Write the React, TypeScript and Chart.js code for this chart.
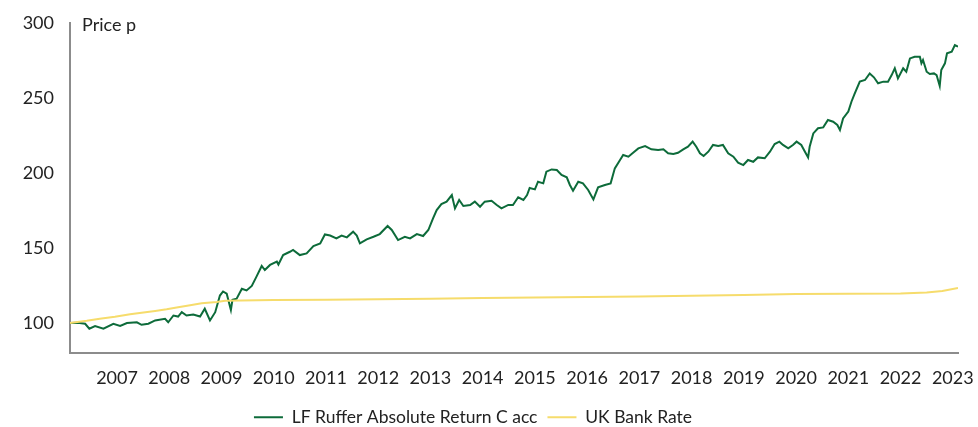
import React, { useEffect, useRef } from 'react';
import { Chart, registerables } from 'chart.js';

Chart.register(...registerables);

const fundName = 'LF Ruffer Absolute Return C acc';
const rateName = 'UK Bank Rate';
const yAxisTitle = 'Price p';

const yearTicks = [
  2007, 2008, 2009, 2010, 2011, 2012, 2013, 2014, 2015, 2016, 2017, 2018, 2019, 2020, 2021, 2022, 2023,
];
const priceTicks = [100, 150, 200, 250, 300];

const fundDates = [
  2006.10, 2006.25, 2006.39, 2006.47, 2006.58, 2006.74, 2006.93, 2007.06, 2007.19, 2007.38,
  2007.47, 2007.60, 2007.73, 2007.92, 2007.98, 2008.08, 2008.17, 2008.24, 2008.33, 2008.46,
  2008.59, 2008.68, 2008.78, 2008.88, 2008.97, 2009.03, 2009.10, 2009.13, 2009.18, 2009.21,
  2009.29, 2009.39, 2009.48, 2009.58, 2009.67, 2009.77, 2009.83, 2009.93, 2010.06, 2010.09,
  2010.18, 2010.31, 2010.37, 2010.50, 2010.63, 2010.76, 2010.89, 2010.98, 2011.08, 2011.20,
  2011.30, 2011.40, 2011.52, 2011.59, 2011.65, 2011.78, 2011.91, 2012.03, 2012.18, 2012.26,
  2012.38, 2012.51, 2012.61, 2012.74, 2012.86, 2012.96, 2013.05, 2013.12, 2013.21, 2013.31,
  2013.41, 2013.47, 2013.55, 2013.63, 2013.76, 2013.85, 2013.95, 2014.04, 2014.17, 2014.27,
  2014.36, 2014.49, 2014.58, 2014.68, 2014.78, 2014.85, 2014.90, 2015.00, 2015.06, 2015.16,
  2015.22, 2015.32, 2015.42, 2015.51, 2015.61, 2015.67, 2015.73, 2015.83, 2015.92, 2016.02,
  2016.12, 2016.21, 2016.34, 2016.45, 2016.53, 2016.63, 2016.69, 2016.79, 2016.88, 2016.98,
  2017.11, 2017.23, 2017.36, 2017.46, 2017.55, 2017.65, 2017.74, 2017.84, 2017.93, 2018.02,
  2018.09, 2018.16, 2018.23, 2018.32, 2018.41, 2018.51, 2018.60, 2018.70, 2018.80, 2018.89,
  2018.99, 2019.08, 2019.18, 2019.27, 2019.40, 2019.50, 2019.59, 2019.68, 2019.75, 2019.85,
  2019.94, 2020.01, 2020.10, 2020.17, 2020.23, 2020.26, 2020.33, 2020.42, 2020.52, 2020.61,
  2020.71, 2020.79, 2020.84, 2020.90, 2021.00, 2021.06, 2021.12, 2021.22, 2021.32, 2021.41,
  2021.49, 2021.57, 2021.67, 2021.76, 2021.83, 2021.89, 2021.95, 2022.05, 2022.11, 2022.18,
  2022.27, 2022.37, 2022.40, 2022.43, 2022.50, 2022.56, 2022.64, 2022.69, 2022.75, 2022.78,
  2022.85, 2022.89, 2022.98, 2023.04, 2023.10,
];

const fundValues = [
  100, 100.2, 99.5, 96.2, 98, 96.2, 99.5, 98, 100, 100.5,
  98.8, 99.5, 101.7, 102.8, 100.5, 105, 104.3, 107.2, 105, 105.7,
  104.3, 109.5, 101.7, 107.2, 118.3, 121, 119.5, 115.5, 108.7, 115.5,
  116.2, 122.8, 121.7, 124.7, 130.9, 138, 135.3, 138.7, 140.9, 139,
  145.3, 147.5, 148.7, 145.3, 146.4, 151.3, 153.1, 159, 158.3, 156.4,
  158.3, 157.1, 160.9, 158.3, 153.1, 155.8, 157.5, 159.3, 164.7, 162,
  155.3, 157.5, 156.4, 159.3, 158, 162, 169.8, 175.3, 179.3, 180.9,
  185.3, 176.4, 182, 178, 178.7, 180.9, 177.5, 180.9, 181.5, 178.7,
  176.4, 178.7, 178.7, 183.8, 182, 185.3, 190, 189.1, 194.2, 193.1,
  200.9, 202.4, 202, 198.7, 197.1, 192, 188.2, 194.2, 193.1, 188.7,
  182.4, 190.4, 192, 193.1, 203.1, 208.7, 212, 210.9, 213.5, 216.4,
  218, 215.8, 215.3, 215.8, 213.1, 212.7, 213.5, 215.8, 217.5, 220.9,
  217.5, 213.1, 211.3, 214.2, 218.7, 218, 218.7, 213.1, 210.9, 206.9,
  205.3, 208.7, 207.5, 210.4, 209.8, 214.2, 219.3, 220.9, 218.7, 216.4,
  218.7, 220.9, 218.7, 214.2, 210.4, 217.5, 226.4, 229.8, 230.4, 235.3,
  234.2, 232, 228.7, 236.4, 240.9, 247.5, 252.7, 260.9, 262, 266.4,
  263.8, 259.8, 260.9, 260.9, 265.3, 269.8, 263.1, 269.8, 267.5, 276.4,
  277.5, 277.5, 273.1, 275.3, 267.5, 266, 266.4, 265.3, 258, 268.7,
  273.1, 279.8, 280.9, 285.3, 284.2,
];

const rateDates = [
  2006.10, 2006.42, 2006.67, 2006.96, 2007.25, 2007.47, 2007.73, 2007.95, 2008.17, 2008.40,
  2008.62, 2008.91, 2009.07, 2010.00, 2011.00, 2012.00, 2013.00, 2014.00, 2015.00, 2016.00,
  2017.00, 2018.00, 2019.00, 2020.00, 2021.00, 2022.00, 2022.50, 2022.80, 2023.10,
];

const rateValues = [
  100, 101.5, 102.9, 104.2, 105.8, 106.9, 108, 109.1, 110.5, 111.8,
  113.1, 114, 114.9, 115.3, 115.5, 115.8, 116.2, 116.6, 117, 117.4,
  117.7, 118.1, 118.7, 119.3, 119.5, 119.7, 120.4, 121.3, 123.3,
];

const xMin = 2006.1;
const xMax = 2023.1;
const yMin = 80;
const yMax = 300;

const FONT = 'Lato';
const TEXT = '#222222';
const AXIS = '#8c8c8c';
const GREEN = '#0d6b3a';
const YELLOW = '#f6dc6c';

export default function App() {
  const ref = useRef<HTMLCanvasElement>(null);

  useEffect(() => {
    document.body.style.margin = '0';
    const canvas = ref.current;
    if (!canvas) return;

    const titlePlugin = {
      id: 'priceTitle',
      afterDraw(chart: any) {
        const { ctx, chartArea } = chart;
        ctx.save();
        ctx.font = `18px ${FONT}`;
        ctx.fillStyle = TEXT;
        ctx.textAlign = 'left';
        ctx.textBaseline = 'alphabetic';
        ctx.fillText(yAxisTitle, chartArea.left + 12, chartArea.top + 8);
        ctx.restore();
      },
    };

    const chart = new Chart(canvas, {
      type: 'line',
      data: {
        datasets: [
          {
            label: fundName,
            data: fundDates.map((d, i) => ({ x: d, y: fundValues[i] })),
            borderColor: GREEN,
            backgroundColor: GREEN,
            borderWidth: 2,
            pointRadius: 0,
            tension: 0,
            order: 1,
          },
          {
            label: rateName,
            data: rateDates.map((d, i) => ({ x: d, y: rateValues[i] })),
            borderColor: YELLOW,
            backgroundColor: YELLOW,
            borderWidth: 2,
            pointRadius: 0,
            tension: 0,
            order: 0,
          },
        ],
      },
      plugins: [titlePlugin],
      options: {
        animation: false,
        responsive: false,
        maintainAspectRatio: false,
        layout: { padding: { top: 23, right: 20, bottom: -9, left: -12 } },
        plugins: {
          tooltip: { enabled: false },
          legend: {
            position: 'bottom',
            labels: {
              boxWidth: 29,
              boxHeight: 2,
              padding: 10,
              color: TEXT,
              font: { family: FONT, size: 17.5 },
              sort: (a: any, b: any) => a.datasetIndex - b.datasetIndex,
              generateLabels: (c: any) =>
                (Chart.defaults.plugins.legend.labels as any)
                  .generateLabels(c)
                  .map((l: any) => ({ ...l, lineWidth: 0 })),
            },
          },
        },
        scales: {
          x: {
            type: 'linear',
            min: xMin,
            max: xMax,
            grid: { display: false, drawTicks: false },
            border: { display: true, color: AXIS, width: 2 },
            afterBuildTicks: (s: any) => {
              s.ticks = yearTicks.map((v) => ({ value: v }));
            },
            ticks: {
              autoSkip: false,
              maxRotation: 0,
              padding: 14,
              color: TEXT,
              font: { family: FONT, size: 18 },
              callback: (v: any) => String(v),
            },
            afterFit: (s: any) => {
              s.height = 45.5;
              s.paddingLeft = 0;
              s.paddingRight = 0;
            },
          },
          y: {
            type: 'linear',
            min: yMin,
            max: yMax,
            grid: { display: false, drawTicks: false },
            border: { display: true, color: AXIS, width: 2 },
            afterBuildTicks: (s: any) => {
              s.ticks = priceTicks.map((v) => ({ value: v }));
            },
            ticks: {
              padding: 16,
              color: TEXT,
              font: { family: FONT, size: 18 },
              callback: (v: any) => String(v),
            },
            afterFit: (s: any) => {
              s.width = 82;
              s.paddingTop = 0;
              s.paddingBottom = 0;
            },
          },
        },
      },
    } as any);

    return () => chart.destroy();
  }, []);

  return (
    <div style={{ width: 978, height: 427 }}>
      <canvas ref={ref} width={978} height={427} />
    </div>
  );
}
